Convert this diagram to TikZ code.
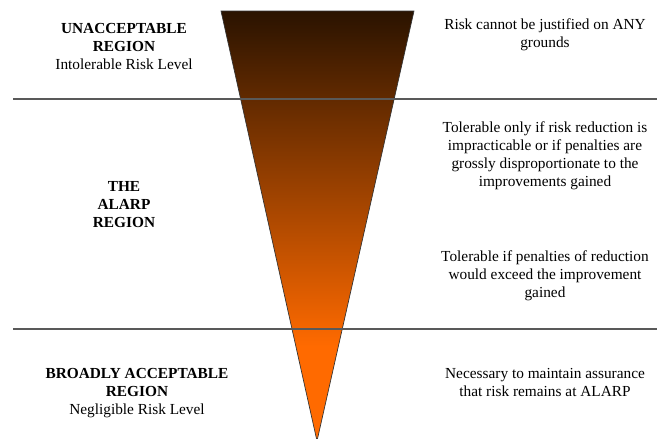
\documentclass[tikz,border=0pt]{standalone}
\usepackage{fontspec}
\setmainfont{Liberation Serif}
\definecolor{funneltop}{HTML}{2A1300}
\definecolor{funnelbottom}{HTML}{FF6A00}
\pgfdeclareverticalshading{funnelshade}{100bp}{color(0bp)=(funnelbottom); color(36bp)=(funnelbottom); color(75bp)=(funneltop); color(100bp)=(funneltop)}
\begin{document}
\begin{tikzpicture}[x=0.75pt,y=-0.75pt]

			\tikzstyle{regiontext} = [align=center, text=black, font=\fontsize{11.5}{13.5}\selectfont]
			\tikzstyle{divider} = [draw=black!65, line width=0.8pt]
			\tikzstyle{funnel} = [draw=black!80, line width=0.5pt, shading=funnelshade]

			\useasboundingbox (0,0) rectangle (657,439);

			% risk triangle
			\coordinate (topleft) at (221,11);
			\coordinate (topright) at (414,11);
			\coordinate (tip) at (317,441);
			\path[funnel] (topleft) -- (topright) -- (tip) -- cycle;

			% region borders
			\coordinate (upperA) at (13,99);
			\coordinate (upperB) at (657,99);
			\coordinate (lowerA) at (13,329);
			\coordinate (lowerB) at (657,329);
			\draw[divider] (upperA) -- (upperB);
			\draw[divider] (lowerA) -- (lowerB);

			% left column
			\node (unacceptable) [regiontext] at (124,46) {\textbf{UNACCEPTABLE}\\\textbf{REGION}\\Intolerable Risk Level};
			\node (alarp) [regiontext] at (124,205) {\textbf{THE}\\\textbf{ALARP}\\\textbf{REGION}};
			\node (broadly) [regiontext] at (137,393) {\textbf{BROADLY ACCEPTABLE}\\\textbf{REGION}\\Negligible Risk Level};

			% right column
			\node (anygrounds) [regiontext] at (545,35) {Risk cannot be justified on ANY\\grounds};
			\node (grossly) [regiontext] at (545,156) {Tolerable only if risk reduction is\\impracticable or if penalties are\\grossly disproportionate to the\\improvements gained};
			\node (exceed) [regiontext] at (545,276) {Tolerable if penalties of reduction\\would exceed the improvement\\gained};
			\node (assurance) [regiontext] at (545,382) {Necessary to maintain assurance\\that risk remains at ALARP};

		\end{tikzpicture}
\end{document}
